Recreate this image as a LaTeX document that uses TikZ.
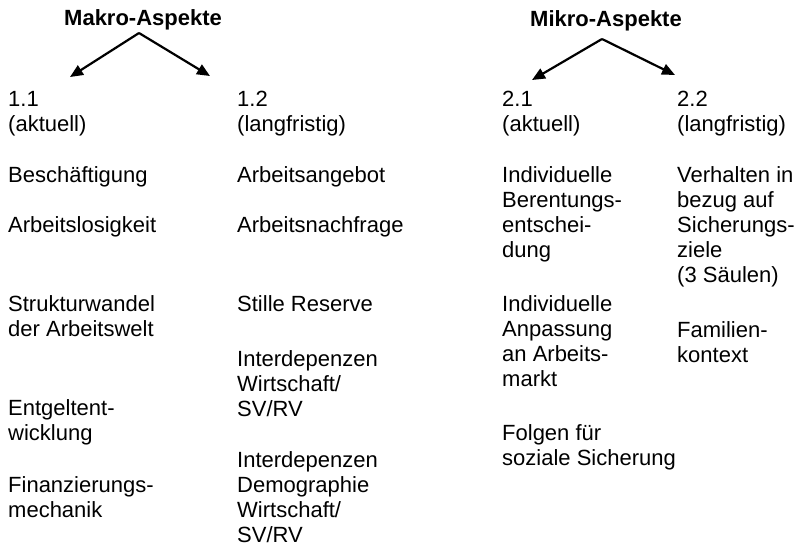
\documentclass[tikz,border=0pt]{standalone}
\usepackage{fontspec}
\setmainfont{Liberation Sans}
\usetikzlibrary{arrows.meta}

\begin{document}
\begin{tikzpicture}[x=1pt,y=-1pt,
  txt/.style={anchor=base west,inner sep=0pt,align=left,font=\fontsize{22}{25}\selectfont},
  kopf/.style={anchor=base west,inner sep=0pt,font=\fontsize{22}{25}\selectfont\bfseries},
  pfeil/.style={line width=2.2pt,-{Triangle[length=13pt,width=11pt]}}]

\useasboundingbox (0,0) rectangle (799,550);

% Ueberschriften
\node[kopf] (makro) at (64,25) {Makro-Aspekte};
\node[kopf] (mikro) at (530,26) {Mikro-Aspekte};

\coordinate (makrospitze) at (139,33);
\coordinate (mikrospitze) at (602,39);
\coordinate (ziel11) at (70,77);
\coordinate (ziel12) at (210,76);
\coordinate (ziel21) at (532,80);
\coordinate (ziel22) at (675,75);

\draw[pfeil] (makrospitze) -- (ziel11);
\draw[pfeil] (makrospitze) -- (ziel12);
\draw[pfeil] (mikrospitze) -- (ziel21);
\draw[pfeil] (mikrospitze) -- (ziel22);

% Spalte 1.1 (y = Grundlinie der letzten Zeile)
\node[txt] (k11) at (8,131) {1.1\\(aktuell)};
\node[txt] (besch) at (8,182) {Beschäftigung};
\node[txt] (alos) at (8,232) {Arbeitslosigkeit};
\node[txt] (struk) at (8,336) {Strukturwandel\\der Arbeitswelt};
\node[txt] (entg) at (8,440) {Entgeltent-\\wicklung};
\node[txt] (finanz) at (8,517) {Finanzierungs-\\mechanik};

% Spalte 1.2
\node[txt] (k12) at (237,131) {1.2\\(langfristig)};
\node[txt] (angebot) at (237,182) {Arbeitsangebot};
\node[txt] (nachfr) at (237,232) {Arbeitsnachfrage};
\node[txt] (stille) at (237,311) {Stille Reserve};
\node[txt] (inter1) at (237,416) {Interdepenzen\\Wirtschaft/\\SV/RV};
\node[txt] (inter2) at (237,542) {Interdepenzen\\Demographie\\Wirtschaft/\\SV/RV};

% Spalte 2.1
\node[txt] (k21) at (502,131) {2.1\\(aktuell)};
\node[txt] (beren) at (502,257) {Individuelle\\Berentungs-\\entschei-\\dung};
\node[txt] (anpass) at (502,386) {Individuelle\\Anpassung\\an Arbeits-\\markt};
\node[txt] (folgen) at (502,465) {Folgen für\\soziale Sicherung};

% Spalte 2.2
\node[txt] (k22) at (677,131) {2.2\\(langfristig)};
\node[txt] (verh) at (677,282) {Verhalten in\\bezug auf\\Sicherungs-\\ziele\\(3 Säulen)};
\node[txt] (fam) at (677,362) {Familien-\\kontext};

\end{tikzpicture}
\end{document}
